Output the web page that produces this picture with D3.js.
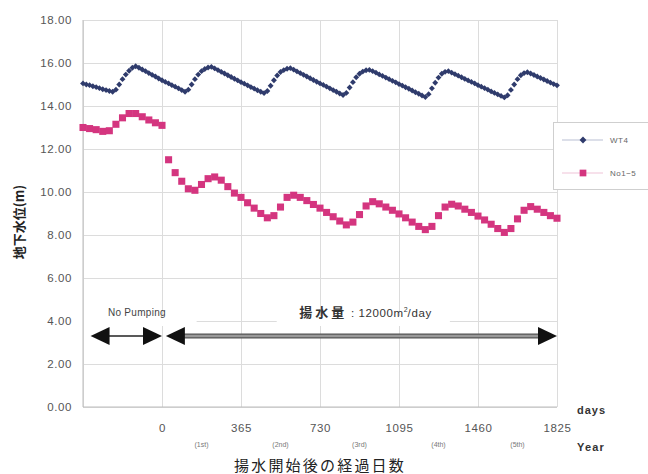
<!DOCTYPE html>
<html>
<head>
<meta charset="utf-8">
<script src="https://cdn.jsdelivr.net/npm/d3@7"></script>
<style>
  html, body { margin: 0; padding: 0; background: #fff; }
  svg { display: block; }
</style>
</head>
<body>
<div id="wrapper"></div>
<script>
// ---- data ----
// WT4: half-monthly readings, from day -365 to day 1825
const wt4Start = -365
const wt4Step = 365 / 24
const wt4Values = [
  15.05, 15.00, 14.97, 14.92, 14.88, 14.83, 14.78, 14.74, 14.70, 14.66,
  14.76, 15.00, 15.25, 15.46, 15.64, 15.78, 15.85, 15.78, 15.70, 15.62,
  15.53, 15.45, 15.37, 15.28, 15.20, 15.12, 15.05, 14.97, 14.90, 14.82,
  14.74, 14.66, 14.76, 15.00, 15.25, 15.46, 15.62, 15.72, 15.79, 15.82,
  15.75, 15.67, 15.59, 15.51, 15.43, 15.35, 15.27, 15.19, 15.11, 15.04,
  14.96, 14.88, 14.81, 14.73, 14.66, 14.60, 14.70, 14.94, 15.20, 15.42,
  15.58, 15.67, 15.73, 15.76, 15.69, 15.61, 15.53, 15.45, 15.37, 15.29,
  15.21, 15.13, 15.05, 14.98, 14.90, 14.82, 14.74, 14.66, 14.58, 14.51,
  14.61, 14.86, 15.11, 15.34, 15.50, 15.60, 15.66, 15.68, 15.62, 15.55,
  15.47, 15.40, 15.32, 15.25, 15.17, 15.10, 15.02, 14.95, 14.87, 14.80,
  14.72, 14.64, 14.57, 14.49, 14.42, 14.55, 14.82, 15.08, 15.32, 15.50,
  15.59, 15.62, 15.55, 15.48, 15.41, 15.34, 15.26, 15.19, 15.12, 15.05,
  14.97, 14.90, 14.83, 14.76, 14.68, 14.61, 14.54, 14.47, 14.40, 14.50,
  14.75, 15.00, 15.25, 15.43, 15.53, 15.57, 15.51, 15.44, 15.37, 15.30,
  15.23, 15.16, 15.09, 15.02, 14.96
]

// No1-5: monthly readings, from day -365 to day 1825
const no15Start = -365
const no15Step = 365 / 12
const no15Values = [
  13.00, 12.95, 12.90, 12.82, 12.85, 13.15, 13.45, 13.65, 13.65, 13.50,
  13.35, 13.22, 13.10, 11.50, 10.90, 10.50, 10.15, 10.08, 10.35, 10.62,
  10.70, 10.55, 10.25, 9.95, 9.75, 9.50, 9.25, 9.00, 8.80, 8.90,
  9.30, 9.75, 9.85, 9.75, 9.60, 9.42, 9.25, 9.05, 8.85, 8.65,
  8.47, 8.60, 8.95, 9.35, 9.55, 9.45, 9.30, 9.15, 8.98, 8.80,
  8.60, 8.40, 8.25, 8.40, 8.90, 9.30, 9.43, 9.35, 9.20, 9.05,
  8.88, 8.70, 8.50, 8.30, 8.12, 8.30, 8.75, 9.15, 9.32, 9.20,
  9.05, 8.90, 8.78
]

const seriesNames = ["WT4", "No1\u22125"]
const dayTicks = [0, 365, 730, 1095, 1460, 1825]
const yearLabels = ["(1st)", "(2nd)", "(3rd)", "(4th)", "(5th)"]
const yTicks = [0, 2, 4, 6, 8, 10, 12, 14, 16, 18]

// ---- dimensions ----
const dimensions = {
  width: 648,
  height: 474,
  margin: { top: 20, right: 91, bottom: 67, left: 83 },
}
dimensions.boundedWidth = dimensions.width - dimensions.margin.left - dimensions.margin.right
dimensions.boundedHeight = dimensions.height - dimensions.margin.top - dimensions.margin.bottom

const blue = "#2f3b6c"
const pink = "#d4357f"
const grid = "#dcdcdc"
const numFont = "'Liberation Sans', Arial, sans-serif"
const jpFont = "'Noto Sans CJK JP', 'Noto Sans', sans-serif"

const svg = d3.select("#wrapper").append("svg")
  .attr("width", dimensions.width)
  .attr("height", dimensions.height)

const bounds = svg.append("g")
  .attr("transform", `translate(${dimensions.margin.left},${dimensions.margin.top})`)

// ---- scales ----
const xScale = d3.scaleLinear()
  .domain([-365, 1825])
  .range([0, dimensions.boundedWidth])

const yScale = d3.scaleLinear()
  .domain([0, 18])
  .range([dimensions.boundedHeight, 0])

// ---- grid ----
bounds.append("g")
  .call(d3.axisLeft(yScale).tickValues(yTicks).tickSize(-dimensions.boundedWidth).tickFormat(""))
  .call(g => g.select(".domain").remove())
  .call(g => g.selectAll("line").attr("stroke", grid))

bounds.append("g")
  .call(d3.axisBottom(xScale).tickValues([-365].concat(dayTicks)).tickSize(dimensions.boundedHeight).tickFormat(""))
  .call(g => g.select(".domain").remove())
  .call(g => g.selectAll("line").attr("stroke", grid))

bounds.append("line")
  .attr("x1", 0).attr("x2", 0)
  .attr("y1", 0).attr("y2", dimensions.boundedHeight)
  .attr("stroke", "#bdbdbd")
bounds.append("line")
  .attr("x1", 0).attr("x2", dimensions.boundedWidth)
  .attr("y1", dimensions.boundedHeight).attr("y2", dimensions.boundedHeight)
  .attr("stroke", "#bdbdbd")

// ---- y axis labels ----
const yAxis = bounds.append("g")
  .call(d3.axisLeft(yScale).tickValues(yTicks).tickSize(0).tickPadding(11).tickFormat(d3.format(".2f")))
yAxis.select(".domain").remove()
yAxis.selectAll("text")
  .attr("fill", "#555")
  .style("font-family", numFont)
  .style("font-size", "11.5px")
  .style("letter-spacing", "0.6px")

// ---- x axis labels ----
const xAxis = bounds.append("g")
  .attr("transform", `translate(0,${dimensions.boundedHeight})`)
  .call(d3.axisBottom(xScale).tickValues(dayTicks).tickSize(0).tickPadding(17).tickFormat(d3.format("d")))
xAxis.select(".domain").remove()
xAxis.selectAll("text")
  .attr("fill", "#555")
  .style("font-family", numFont)
  .style("font-size", "11.5px")
  .style("letter-spacing", "0.6px")

bounds.append("g").selectAll("text")
  .data(yearLabels)
  .join("text")
    .attr("x", (d, i) => xScale((dayTicks[i] + dayTicks[i + 1]) / 2))
    .attr("y", dimensions.boundedHeight + 40)
    .attr("text-anchor", "middle")
    .attr("fill", "#777")
    .style("font-family", numFont)
    .style("font-size", "7px")
    .text(d => d)

svg.append("text")
  .attr("x", 577).attr("y", 414)
  .attr("fill", "#333")
  .style("font-family", numFont)
  .style("font-size", "11px")
  .style("font-weight", "bold")
  .style("letter-spacing", "1px")
  .text("days")

svg.append("text")
  .attr("x", 577).attr("y", 451)
  .attr("fill", "#333")
  .style("font-family", numFont)
  .style("font-size", "11px")
  .style("font-weight", "bold")
  .style("letter-spacing", "1.2px")
  .text("Year")

// axis titles
svg.append("text")
  .attr("x", 320).attr("y", 471)
  .attr("text-anchor", "middle")
  .attr("fill", "#222")
  .style("font-family", jpFont)
  .style("font-size", "15px")
  .style("letter-spacing", "2.2px")
  .text("揚水開始後の経過日数")

svg.append("text")
  .attr("transform", "translate(24,222) rotate(-90)")
  .attr("text-anchor", "middle")
  .attr("fill", "#222")
  .style("font-family", jpFont)
  .style("font-size", "13px")
  .style("font-weight", "bold")
  .text("地下水位(m)")

// ---- annotations ----
const annoY = yScale(4)
bounds.append("rect")
  .attr("x", 1).attr("y", annoY - 5)
  .attr("width", xScale(160) - 1).attr("height", 10)
  .attr("fill", "#fff")
bounds.append("rect")
  .attr("x", xScale(530)).attr("y", annoY - 5)
  .attr("width", xScale(1330) - xScale(530)).attr("height", 10)
  .attr("fill", "#fff")

bounds.append("text")
  .attr("x", xScale(-250)).attr("y", annoY - 5)
  .attr("fill", "#444")
  .style("font-family", numFont)
  .style("font-size", "10px")
  .style("letter-spacing", "0.3px")
  .text("No Pumping")

const pumpLabel = bounds.append("text")
  .attr("x", xScale(940)).attr("y", annoY - 4)
  .attr("text-anchor", "middle")
  .attr("fill", "#333")
pumpLabel.append("tspan")
  .style("font-family", jpFont)
  .style("font-size", "13px")
  .style("font-weight", "bold")
  .style("letter-spacing", "3px")
  .text("揚水量")
pumpLabel.append("tspan")
  .style("font-family", numFont)
  .style("font-size", "11.5px")
  .style("letter-spacing", "0.6px")
  .text(" : 12000m")
pumpLabel.append("tspan")
  .attr("dy", -5)
  .style("font-family", numFont)
  .style("font-size", "7px")
  .text("2")
pumpLabel.append("tspan")
  .attr("dy", 5)
  .style("font-family", numFont)
  .style("font-size", "11.5px")
  .style("letter-spacing", "0.6px")
  .text("/day")

const arrowY = yScale(3.3)
const arrowHead = (tipX, dir) => {
  const len = 19, half = 9
  return `M${tipX},${arrowY} L${tipX - dir * len},${arrowY - half} L${tipX - dir * len},${arrowY + half} Z`
}

// no pumping arrow
bounds.append("line")
  .attr("x1", xScale(-330) + 15).attr("x2", xScale(0) - 15)
  .attr("y1", arrowY).attr("y2", arrowY)
  .attr("stroke", "#222").attr("stroke-width", 1.5)
bounds.append("path").attr("d", arrowHead(xScale(-330), -1)).attr("fill", "#111")
bounds.append("path").attr("d", arrowHead(xScale(0), 1)).attr("fill", "#111")

// pumping arrow
bounds.append("line")
  .attr("x1", xScale(18) + 15).attr("x2", xScale(1825) - 15)
  .attr("y1", arrowY).attr("y2", arrowY)
  .attr("stroke", "#555").attr("stroke-width", 5)
bounds.append("line")
  .attr("x1", xScale(18) + 15).attr("x2", xScale(1825) - 15)
  .attr("y1", arrowY).attr("y2", arrowY)
  .attr("stroke", "#9a9a9a").attr("stroke-width", 2.5)
bounds.append("path").attr("d", arrowHead(xScale(18), -1)).attr("fill", "#111")
bounds.append("path").attr("d", arrowHead(xScale(1825), 1)).attr("fill", "#111")

// ---- data points ----
const diamond = d3.symbol().type(d3.symbolDiamond2).size(22)
const square = d3.symbol().type(d3.symbolSquare).size(50)

bounds.append("g").selectAll("path")
  .data(wt4Values)
  .join("path")
    .attr("d", diamond)
    .attr("transform", (d, i) => `translate(${xScale(wt4Start + i * wt4Step)},${yScale(d)})`)
    .attr("fill", blue)

bounds.append("g").selectAll("path")
  .data(no15Values)
  .join("path")
    .attr("d", square)
    .attr("transform", (d, i) => `translate(${xScale(no15Start + i * no15Step)},${yScale(d)})`)
    .attr("fill", pink)

// ---- legend ----
const legend = svg.append("g")
legend.append("rect")
  .attr("x", 553.5).attr("y", 122.5)
  .attr("width", 110).attr("height", 67)
  .attr("fill", "#fff")
  .attr("stroke", "#cfcfcf")

const legendRows = [
  { name: seriesNames[0], color: blue, lineColor: "#b9bfd3", symbol: d3.symbol().type(d3.symbolDiamond2).size(30), y: 140 },
  { name: seriesNames[1], color: pink, lineColor: "#efc3d7", symbol: d3.symbol().type(d3.symbolSquare).size(45), y: 173 },
]
legendRows.forEach(r => {
  legend.append("line")
    .attr("x1", 562).attr("x2", 603)
    .attr("y1", r.y).attr("y2", r.y)
    .attr("stroke", r.lineColor)
  legend.append("path")
    .attr("d", r.symbol())
    .attr("transform", `translate(583,${r.y})`)
    .attr("fill", r.color)
  legend.append("text")
    .attr("x", 610).attr("y", r.y + 3)
    .attr("fill", "#666")
    .style("font-family", numFont)
    .style("font-size", "8px")
    .style("letter-spacing", "0.5px")
    .text(r.name)
})
</script>
</body>
</html>
